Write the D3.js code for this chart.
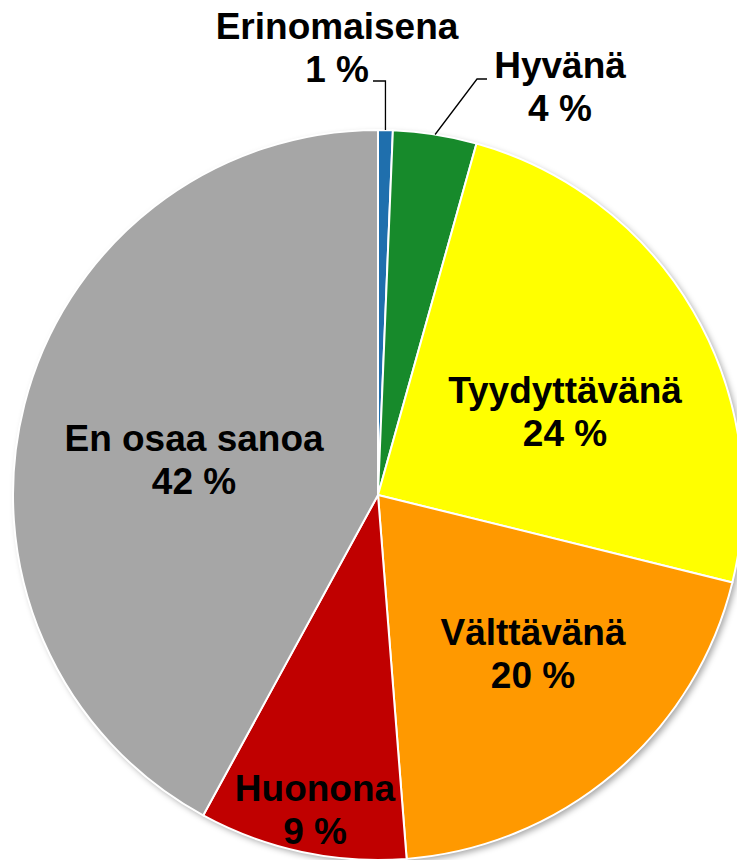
<!DOCTYPE html>
<html>
<head>
<meta charset="utf-8">
<script src="https://cdn.jsdelivr.net/npm/d3@7"></script>
<style>
  html, body { margin: 0; padding: 0; background: #fff; overflow: hidden; }
  svg { display: block; }
  text { font-family: "Liberation Sans", Arial, sans-serif; font-weight: bold; font-size: 37px; fill: #000; }
</style>
</head>
<body>
<svg id="chart" width="737" height="860"></svg>
<script>
// --- Data ---
const categories = ["Erinomaisena", "Hyvänä", "Tyydyttävänä", "Välttävänä", "Huonona", "En osaa sanoa"];
const values = [0.65, 3.7, 24.5, 19.9, 9.2, 42.05];
const valueLabels = ["1 %", "4 %", "24 %", "20 %", "9 %", "42 %"];
const colors = ["#1f6fad", "#178a2b", "#ffff00", "#ff9900", "#c00000", "#a6a6a6"];

// --- Layout ---
const CONFIG = {
    cx: 378,
    cy: 495,
    radius: 365,
    lineGap: 43
};

// label anchor (centre x, first baseline) relative to pie centre
const LABEL_POS = {
    "Erinomaisena": { x: -41, y: -456, outside: true, leader: { y: -414, endX: -5 } },
    "Hyvänä":       { x: 182, y: -417, outside: true, leader: { y: -416, endX: 109 } },
    "Tyydyttävänä": { x: 187, y: -92 },
    "Välttävänä":   { x: 155, y: 150 },
    "Huonona":      { x: -63, y: 306 },
    "En osaa sanoa":{ x: -184, y: -44 }
};

const svg = d3.select("#chart");

const defs = svg.append("defs");
const shadow = defs.append("filter").attr("id", "shadow")
    .attr("x", "-10%").attr("y", "-10%").attr("width", "130%").attr("height", "130%");
shadow.append("feDropShadow")
    .attr("dx", 3).attr("dy", 3).attr("stdDeviation", 3)
    .attr("flood-color", "#000").attr("flood-opacity", 0.35);

const g = svg.append("g").attr("transform", `translate(${CONFIG.cx},${CONFIG.cy})`);

const pie = d3.pie().sort(null).value(d => d.value);
const arc = d3.arc().innerRadius(0).outerRadius(CONFIG.radius);

const data = categories.map((c, i) => ({ name: c, value: values[i], label: valueLabels[i], color: colors[i] }));
const arcs = pie(data);

// shadow disc under the pie
g.append("circle").attr("r", CONFIG.radius).attr("fill", "#fff").attr("filter", "url(#shadow)");

g.selectAll("path.slice")
    .data(arcs)
    .join("path")
    .attr("class", "slice")
    .attr("d", arc)
    .attr("fill", d => d.data.color)
    .attr("stroke", "#fff")
    .attr("stroke-width", 2);

// --- Leader lines for outside labels ---
arcs.forEach(d => {
    const p = LABEL_POS[d.data.name];
    if (!p.outside) return;
    const mid = (d.startAngle + d.endAngle) / 2;
    const sx = Math.sin(mid) * CONFIG.radius;
    const sy = -Math.cos(mid) * CONFIG.radius;
    let pts;
    if (Math.abs(sx) < 12) {
        pts = [[sx, sy], [sx, p.leader.y], [p.leader.endX, p.leader.y]];
    } else {
        pts = [[sx, sy], [p.leader.endX - 10, p.leader.y], [p.leader.endX, p.leader.y]];
    }
    g.append("path")
        .attr("d", d3.line()(pts))
        .attr("fill", "none")
        .attr("stroke", "#000")
        .attr("stroke-width", 1.3);
});

// --- Labels ---
const labels = g.selectAll("text.lbl")
    .data(arcs)
    .join("text")
    .attr("class", "lbl")
    .attr("text-anchor", "middle");

labels.append("tspan")
    .attr("x", d => LABEL_POS[d.data.name].x)
    .attr("y", d => LABEL_POS[d.data.name].y)
    .text(d => d.data.name);

labels.append("tspan")
    .attr("x", d => LABEL_POS[d.data.name].x)
    .attr("y", d => LABEL_POS[d.data.name].y + CONFIG.lineGap)
    .text(d => d.data.label);
</script>
</body>
</html>
